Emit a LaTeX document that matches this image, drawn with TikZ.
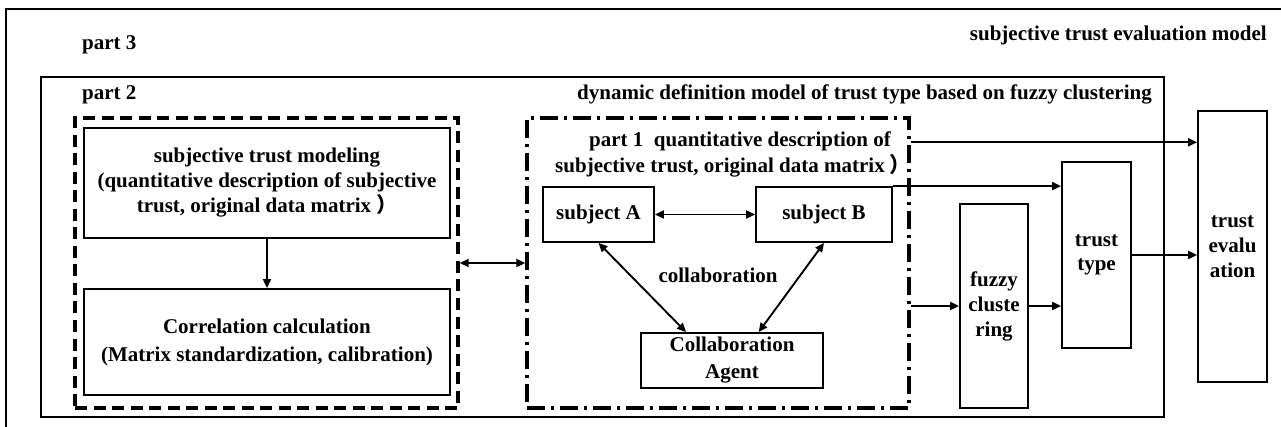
\documentclass[tikz,border=0pt]{standalone}
\usepackage{fontspec}
\setmainfont{Liberation Serif}
\newfontfamily\cjkfont{Noto Sans CJK SC}
\usetikzlibrary{arrows.meta,calc}
\newcommand{\fwparen}{\kern5pt{\cjkfont ）}}

\begin{document}
\begin{tikzpicture}[x=1pt,y=-1pt,
  every node/.style={font=\fontsize{21}{25}\selectfont\bfseries, inner sep=0pt},
  box/.style={draw, line width=1.8pt, align=center, rectangle},
  frame/.style={draw, line width=1.8pt},
  dashframe/.style={draw, line width=3.4pt, dash pattern=on 12pt off 6.5pt},
  dotframe/.style={draw, line width=3.4pt, dash pattern=on 18pt off 6pt on 3pt off 6pt},
  link/.style={line width=1.9pt, -{Triangle[length=9pt,width=8pt]}},
  dlink/.style={line width=1.9pt, {Triangle[length=9pt,width=8pt]}-{Triangle[length=9pt,width=8pt]}},
  lbl/.style={anchor=base}
]
\useasboundingbox (0,0) rectangle (1281,427);

% part 3: whole evaluation model
\draw[frame] (6,9) rectangle (1300,450);
\node[lbl, anchor=base west] (p3) at (82,50) {part 3};
\node[lbl, anchor=base east] (p3t) at (1267,41) {subjective trust evaluation model};

% part 2: dynamic definition model
\node[frame, minimum width=1123pt, minimum height=340pt] (dynbox) at (602.5,247) {};
\node[lbl, anchor=base west] (p2) at (82,100) {part 2};
\node[lbl, anchor=base east] (p2t) at (1152,100) {dynamic definition model of trust type based on fuzzy clustering};

% left group: modeling and correlation
\node[dashframe, minimum width=383pt, minimum height=290pt] (modbox) at (266.5,263) {};
\node[box, minimum width=366pt, minimum height=110pt] (model) at (267,183)
  {subjective trust modeling\\(quantitative description of subjective\\trust, original data matrix\fwparen};
\node[box, minimum width=366pt, minimum height=106pt,
      font=\fontsize{21}{28}\selectfont\bfseries] (corr) at (267,342)
  {Correlation calculation\\(Matrix standardization, calibration)};
\draw[link] (model) -- (corr);

% part 1: quantitative description
\node[dotframe, minimum width=382pt, minimum height=290pt] (descbox) at (718,263) {};
\node[lbl] (p1a) at (740,147) {part 1\ \ quantitative description of};
\node[lbl] (p1b) at (733,173) {subjective trust, original data matrix\fwparen};
\node[box, minimum width=111pt, minimum height=55pt] (A) at (598.5,214.5) {subject A};
\node[box, minimum width=136pt, minimum height=55pt] (B) at (824,214.5) {subject B};
\node[box, minimum width=182pt, minimum height=55pt, align=center] (agent) at (732,360.5)
  {Collaboration\\[2pt]Agent};
\node (collab) at (718,275) {collaboration};
\draw[dlink] (A) -- (B);
\draw[dlink] (A.south) -- ($(agent.north)!0.5!(agent.north west)$);
\draw[dlink] (B.south) -- ($(agent.north)!0.29!(agent.north east)$);
\draw[dlink] (modbox.east) -- (descbox.west);

% right column: clustering, type, evaluation
\node[box, minimum width=68pt, minimum height=204pt] (fuzzy) at (994,306) {fuzzy\\cluste\\ring};
\node[box, minimum width=69pt, minimum height=186pt] (type) at (1096.5,255) {trust\\[-1pt]type};
\node[box, minimum width=69pt, minimum height=271pt] (eval) at (1232.5,246.5) {trust\\evalu\\ation};

\coordinate (o1) at ($(descbox.north east)+(0,26)$);
\draw[link] (o1) -- (o1 -| eval.west);
\draw[link] (B.north east) -- (B.north east -| type.west);
\draw[link] (fuzzy.west -| descbox.east) -- (fuzzy.west);
\draw[link] (fuzzy.east) -- (fuzzy.east -| type.west);
\draw[link] (type.east) -- (type.east -| eval.west);
\end{tikzpicture}
\end{document}
